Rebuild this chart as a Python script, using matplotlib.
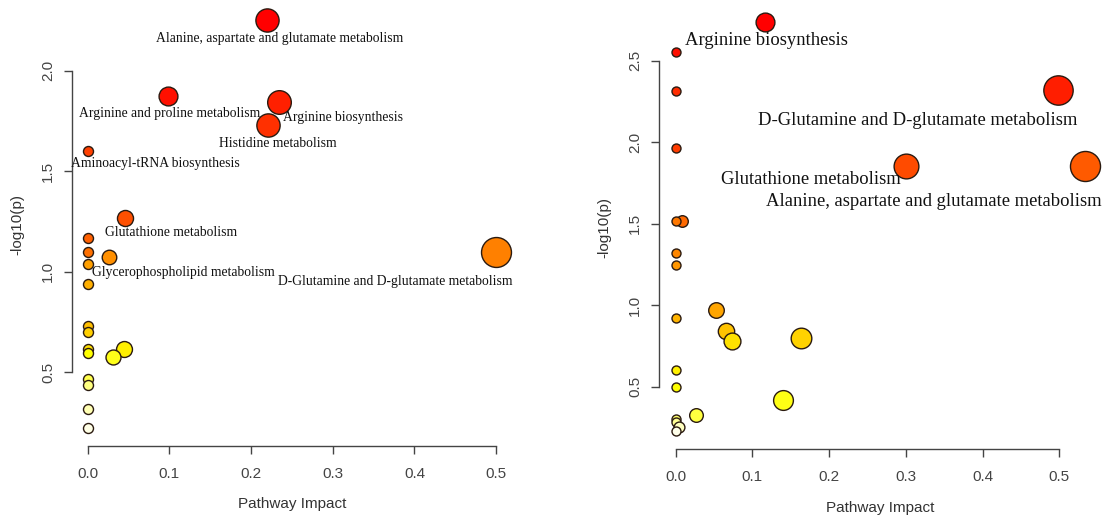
import numpy as np
import matplotlib
matplotlib.use("Agg")
import matplotlib.pyplot as plt
from matplotlib.colors import hsv_to_rgb

# ---------------- data: left panel ----------------
left_impact = [0.219, 0.098, 0.234, 0.221, 0.0, 0.046, 0.0, 0.0, 0.500, 0.026,
               0.0, 0.0, 0.0, 0.0, 0.0, 0.044, 0.0, 0.031, 0.0, 0.0, 0.0, 0.0]
left_logp = [2.254, 1.877, 1.844, 1.731, 1.600, 1.267, 1.168, 1.101, 1.101, 1.076,
             1.040, 0.939, 0.731, 0.703, 0.615, 0.615, 0.595, 0.579, 0.468, 0.436,
             0.317, 0.225]
left_names = ["Alanine, aspartate and glutamate metabolism",
              "Arginine and proline metabolism",
              "Arginine biosynthesis",
              "Histidine metabolism",
              "Aminoacyl-tRNA biosynthesis",
              "Glutathione metabolism",
              "", "",
              "D-Glutamine and D-glutamate metabolism",
              "Glycerophospholipid metabolism",
              "", "", "", "", "", "", "", "", "", "", "", ""]

# ---------------- data: right panel ----------------
right_impact = [0.116, 0.0, 0.499, 0.0, 0.0, 0.300, 0.534, 0.008, 0.0, 0.0,
                0.0, 0.052, 0.0, 0.065, 0.163, 0.074, 0.0, 0.0, 0.140, 0.026,
                0.0, 0.0, 0.004, 0.0]
right_logp = [2.735, 2.553, 2.318, 2.316, 1.964, 1.856, 1.852, 1.518, 1.514, 1.320,
              1.244, 0.968, 0.921, 0.839, 0.800, 0.782, 0.600, 0.496, 0.416, 0.326,
              0.300, 0.281, 0.256, 0.226]
right_names = ["Arginine biosynthesis", "",
               "D-Glutamine and D-glutamate metabolism", "", "",
               "Glutathione metabolism",
               "Alanine, aspartate and glutamate metabolism",
               "", "", "", "", "", "", "", "", "", "", "", "", "", "", "", "", ""]

# label offsets in pixels (text centre relative to circle centre)
left_offsets = {0: (13, -19), 1: (2, -18), 2: (64, -15), 3: (10, -19), 4: (68, -12),
                5: (46, -14), 8: (-101, -30), 9: (74, -16)}
right_offsets = {0: (2, -18), 2: (-141, -30), 5: (-95, -14), 6: (-151, -35)}


def heat_colors(n):
    # same ramp as R's heat.colors()
    j = n // 4
    i = n - j
    hsv = [(h, 1, 1) for h in np.linspace(0, 1 / 6, i)]
    if j > 0:
        hsv += [(1 / 6, s, 1) for s in np.linspace(1 - 1 / (2 * j), 1 / (2 * j), j)]
    return [hsv_to_rgb(c) for c in hsv]


def draw_panel(ax, impact, logp, names, offsets, r0, k, fsize, xlim, ylim, yticks):
    x = np.array(impact)
    y = np.array(logp)
    order = np.argsort(-y, kind="stable")
    cols = heat_colors(len(y))
    radius = r0 + k * np.sqrt(x)          # pixels
    sizes = (2 * radius * 0.72) ** 2       # points^2
    for rank, idx in enumerate(order):
        ax.scatter(x[idx], y[idx], s=sizes[idx], color=cols[rank],
                   edgecolors="#2a1a10", linewidths=1.0, zorder=3 + rank, clip_on=False)
    for idx, (dx, dy) in offsets.items():
        ax.annotate(names[idx], (x[idx], y[idx]), xytext=(dx, dy), textcoords="offset pixels",
                    ha="center", va="center", fontsize=fsize, family="Liberation Serif",
                    color="#111111", zorder=40, annotation_clip=False)

    ax.set_xlim(*xlim)
    ax.set_ylim(*ylim)
    ax.set_xticks([0.0, 0.1, 0.2, 0.3, 0.4, 0.5])
    ax.set_yticks(yticks)
    ax.set_xticklabels(["0.0", "0.1", "0.2", "0.3", "0.4", "0.5"])
    ax.set_yticklabels([f"{v:.1f}" for v in yticks])
    for s in ["top", "right"]:
        ax.spines[s].set_visible(False)
    ax.spines["left"].set_bounds(yticks[0], yticks[-1])
    ax.spines["bottom"].set_bounds(0.0, 0.5)
    for s in ["left", "bottom"]:
        ax.spines[s].set_color("#444444")
        ax.spines[s].set_linewidth(1.0)
    ax.tick_params(length=6, width=1.0, color="#444444", labelcolor="#444444", labelsize=11)
    ax.tick_params(axis="x", pad=9)
    ax.tick_params(axis="y", pad=6, labelrotation=90)
    for lab in ax.get_xticklabels() + ax.get_yticklabels():
        lab.set_family("Liberation Sans")
    for lab in ax.get_yticklabels():
        lab.set_va("center")
    ax.set_xlabel("Pathway Impact", fontsize=11, family="Liberation Sans", color="#333333")
    ax.set_ylabel("-log10(p)", fontsize=11, family="Liberation Sans", color="#333333")


fig = plt.figure(figsize=(11.1, 5.2), dpi=100)
ax1 = fig.add_axes([0.06486, 0.14231, 0.39685, 0.85096])
ax2 = fig.add_axes([0.5937, 0.13654, 0.39856, 0.85173])

draw_panel(ax1, left_impact, left_logp, left_names, left_offsets, 5.0, 14.1, 9.8,
           (-0.0192, 0.52), (0.1343, 2.335), [0.5, 1.0, 1.5, 2.0])
draw_panel(ax2, right_impact, right_logp, right_names, right_offsets, 4.5, 14.4, 13.4,
           (-0.0218, 0.555), (0.118, 2.835), [0.5, 1.0, 1.5, 2.0, 2.5])

ax1.yaxis.set_label_coords(-0.109, 0.5)
ax1.xaxis.set_label_coords(0.5, -0.115)
ax2.yaxis.set_label_coords(-0.107, 0.5)
ax2.xaxis.set_label_coords(0.5, -0.117)

fig.savefig("out.png", dpi=100)
